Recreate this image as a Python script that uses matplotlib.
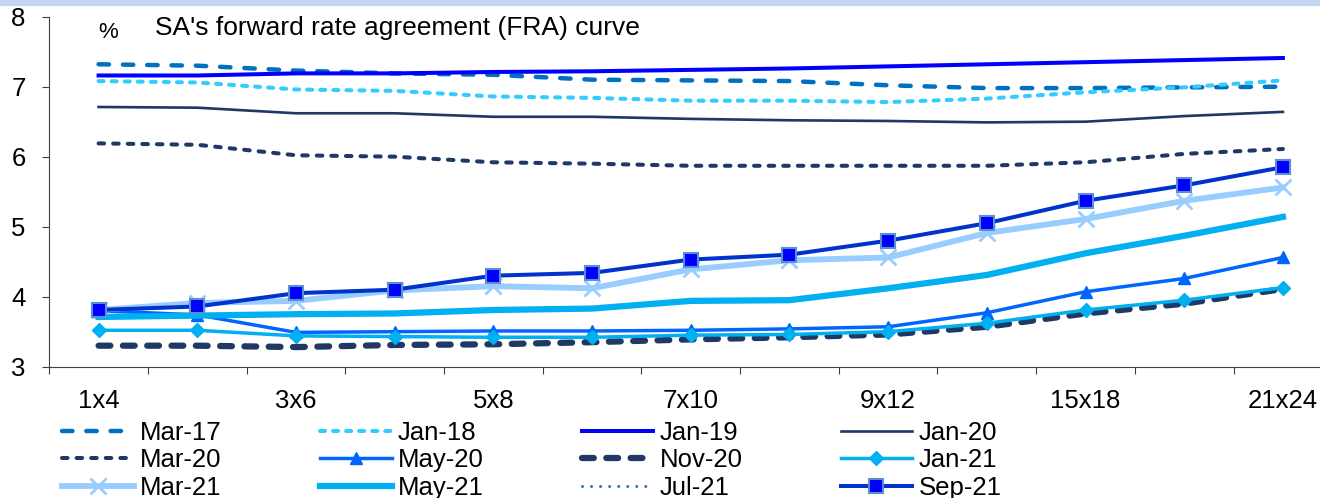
import numpy as np
import matplotlib.pyplot as plt
from matplotlib.patches import Rectangle

plt.rcParams['font.family'] = ['Liberation Sans', 'DejaVu Sans']
plt.rcParams['lines.scale_dashes'] = False

# FRA tenors on the x axis
cats = ['1x4', '2x5', '3x6', '4x7', '5x8', '6x9', '7x10', '8x11', '9x12',
        '12x15', '15x18', '18x21', '21x24']

# FRA curves (%)
mar17 = [7.32, 7.30, 7.23, 7.19, 7.17, 7.10, 7.09, 7.08, 7.02, 6.98, 6.98, 6.99, 7.00]
jan18 = [7.08, 7.06, 6.96, 6.94, 6.86, 6.84, 6.80, 6.80, 6.78, 6.83, 6.92, 6.99, 7.09]
jan19 = [7.16, 7.16, 7.19, 7.19, 7.21, 7.22, 7.24, 7.26, 7.29, 7.32, 7.35, 7.38, 7.41]
jan20 = [6.71, 6.70, 6.62, 6.62, 6.57, 6.57, 6.54, 6.52, 6.51, 6.49, 6.50, 6.58, 6.64]
mar20 = [6.19, 6.17, 6.02, 6.00, 5.92, 5.90, 5.87, 5.87, 5.87, 5.87, 5.92, 6.04, 6.11]
may20 = [3.80, 3.74, 3.49, 3.50, 3.51, 3.51, 3.52, 3.54, 3.57, 3.77, 4.07, 4.26, 4.56]
nov20 = [3.30, 3.30, 3.28, 3.31, 3.32, 3.35, 3.39, 3.42, 3.46, 3.57, 3.76, 3.90, 4.11]
jan21 = [3.52, 3.52, 3.44, 3.43, 3.42, 3.42, 3.45, 3.46, 3.50, 3.62, 3.81, 3.95, 4.13]
mar21 = [3.81, 3.91, 3.94, 4.09, 4.15, 4.12, 4.39, 4.52, 4.56, 4.91, 5.11, 5.37, 5.56]
may21 = [3.71, 3.73, 3.75, 3.76, 3.81, 3.83, 3.94, 3.95, 4.12, 4.31, 4.62, 4.87, 5.14]
jul21 = [np.nan] * 13   # no visible line in the chart, legend entry only
sep21 = [3.81, 3.86, 4.05, 4.10, 4.30, 4.34, 4.53, 4.60, 4.80, 5.05, 5.37, 5.59, 5.85]

fig = plt.figure(figsize=(13.2, 4.98), dpi=100)
fig.patches.append(Rectangle((0, 1 - 5 / 498), 1, 5 / 498, transform=fig.transFigure,
                             color='#C6D4F1', zorder=0))
ax = fig.add_axes([0.0373, 0.2637, 0.972, 0.7028])
x = np.arange(len(cats))

ax.plot(x, mar17, color='#0070C0', lw=3.2, dashes=(7.5, 10), dash_capstyle='round', label='Mar-17')
ax.plot(x, jan18, color='#33CCFF', lw=2.9, dashes=(3.6, 5.8), dash_capstyle='round', label='Jan-18')
ax.plot(x, jan19, color='#0000FF', lw=2.9, label='Jan-19')
ax.plot(x, jan20, color='#1F3864', lw=1.9, label='Jan-20')
ax.plot(x, mar20, color='#1F3864', lw=2.9, dashes=(4, 6.5), dash_capstyle='round', label='Mar-20')
ax.plot(x, may20, color='#0066FF', lw=2.5, marker='^', ms=8, label='May-20')
ax.plot(x, nov20, color='#1F3864', lw=4.5, dashes=(8.5, 9), dash_capstyle='round', label='Nov-20')
ax.plot(x, jan21, color='#00B0F0', lw=2.5, marker='D', ms=7.5, label='Jan-21')
ax.plot(x, mar21, color='#99CCFF', lw=4.2, marker='x', ms=11, mew=2, label='Mar-21')
ax.plot(x, may21, color='#00B0F0', lw=4.5, label='May-21')
ax.plot(x, jul21, color='#2E75B6', lw=2.2, dashes=(0.01, 6.5), dash_capstyle='round', label='Jul-21')
ax.plot(x, sep21, color='#0033CC', lw=2.9, marker='s', ms=9.5, mfc='#0000FF',
        mec='#5B8FD0', mew=1.5, label='Sep-21')

ax.set_xlim(-0.5, 12.5)
ax.set_ylim(3, 8)
for s in ['top', 'right']:
    ax.spines[s].set_visible(False)
for s in ['left', 'bottom']:
    ax.spines[s].set_color('#404040')

ax.set_yticks(range(3, 9))
ax.tick_params(axis='y', direction='out', length=5, color='#404040', labelsize=18.5, pad=12)
ax.set_xticks(np.arange(-0.5, 13, 1))
ax.set_xticklabels([])
ax.set_xticks(x[::2], minor=True)
ax.set_xticklabels(cats[::2], minor=True)
ax.tick_params(axis='x', which='major', direction='out', length=5, color='#404040')
ax.tick_params(axis='x', which='minor', length=0, labelsize=18.5, pad=16)

fig.text(98 / 1320, 1 - 38 / 498, '%', fontsize=16, va='baseline')
fig.text(155 / 1320, 1 - 35 / 498, "SA's forward rate agreement (FRA) curve", fontsize=19, va='baseline')

# legend is filled row by row in the original
h, l = ax.get_legend_handles_labels()
order = [0, 4, 8, 1, 5, 9, 2, 6, 10, 3, 7, 11]
fig.legend([h[i] for i in order], [l[i] for i in order], ncol=4, loc='upper left',
           bbox_to_anchor=(62 / 1320, 1 - 421 / 498), frameon=False, borderpad=0,
           borderaxespad=0, handlelength=2.8, handletextpad=0.25, columnspacing=3.8,
           labelspacing=0.13, fontsize=18.5, numpoints=1)

fig.savefig('out.png', dpi=100)
